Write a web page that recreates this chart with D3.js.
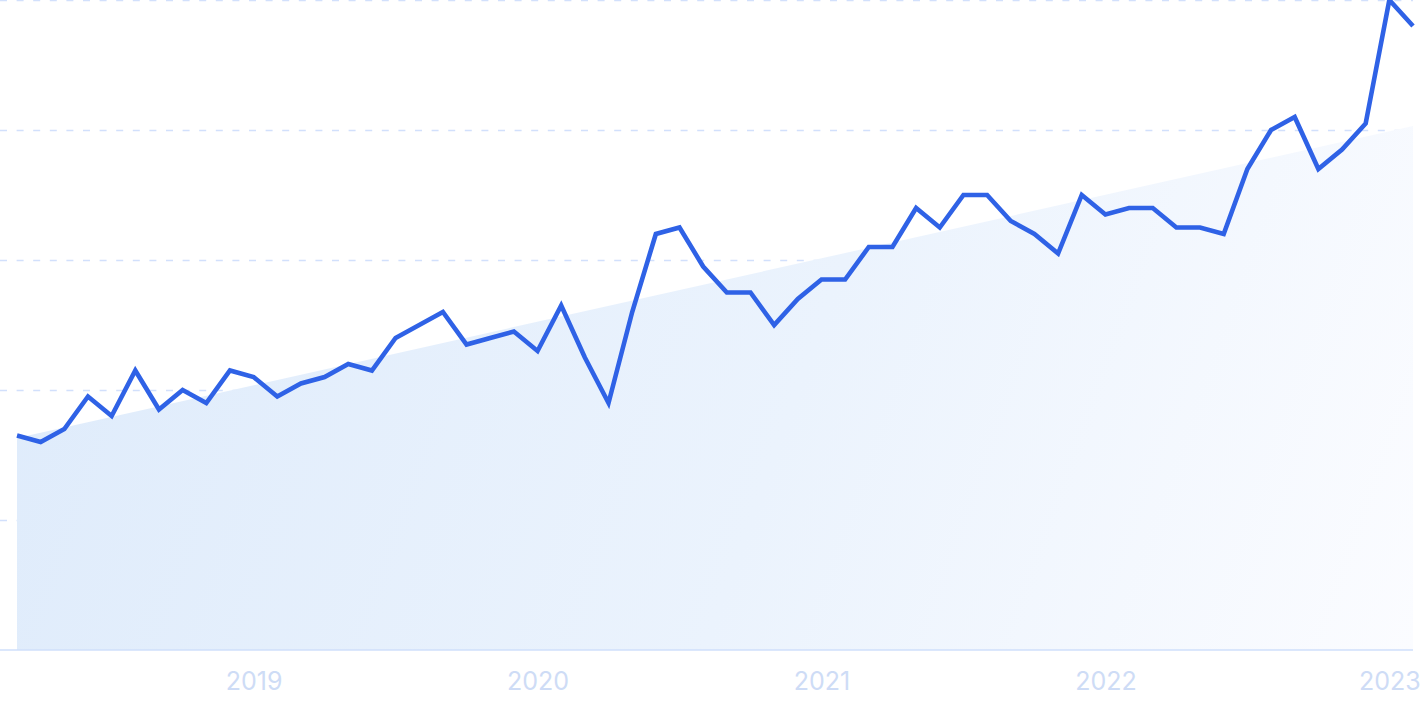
<!DOCTYPE html>
<html>
<head>
<meta charset="utf-8">
<script src="https://cdn.jsdelivr.net/npm/d3@7"></script>
<style>
  html, body { margin: 0; padding: 0; background: #ffffff; }
  svg { display: block; }
</style>
</head>
<body>
<svg id="chart" width="1425" height="712"></svg>
<script>
// Monthly values, Mar 2018 .. Feb 2023
const months = [
  "2018-03","2018-04","2018-05","2018-06","2018-07","2018-08","2018-09","2018-10","2018-11","2018-12",
  "2019-01","2019-02","2019-03","2019-04","2019-05","2019-06","2019-07","2019-08","2019-09","2019-10","2019-11","2019-12",
  "2020-01","2020-02","2020-03","2020-04","2020-05","2020-06","2020-07","2020-08","2020-09","2020-10","2020-11","2020-12",
  "2021-01","2021-02","2021-03","2021-04","2021-05","2021-06","2021-07","2021-08","2021-09","2021-10","2021-11","2021-12",
  "2022-01","2022-02","2022-03","2022-04","2022-05","2022-06","2022-07","2022-08","2022-09","2022-10","2022-11","2022-12",
  "2023-01","2023-02"
];
const values = [
  33, 32, 34, 39, 36, 43, 37, 40, 38, 43,
  42, 39, 41, 42, 44, 43, 48, 50, 52, 47, 48, 49,
  46, 53, 45, 38, 52, 64, 65, 59, 55, 55, 50, 54,
  57, 57, 62, 62, 68, 65, 70, 70, 66, 64, 61, 70,
  67, 68, 68, 65, 65, 64, 74, 80, 82, 74, 77, 81,
  100, 96
];
// Trend (start and end values of the shaded trend area)
const trendValues = [32.6, 80.6];
const yGridValues = [0, 20, 40, 60, 80, 100];
const yearTicks = ["2019-01","2020-01","2021-01","2022-01","2023-01"];
const yearLabels = ["2019","2020","2021","2022","2023"];

(function () {
const svg = d3.select("#chart");
const pLeft = 17, pRight = 1413, pTop = 0, pBottom = 650;

const x = d3.scalePoint().domain(months).range([pLeft, pRight]);
const y = d3.scaleLinear().domain([0, 100]).range([pBottom, pTop]);

// Gradient for the trend area
const defs = svg.append("defs");
const grad = defs.append("linearGradient")
  .attr("id", "trendGrad")
  .attr("gradientUnits", "userSpaceOnUse")
  .attr("x1", pLeft).attr("y1", 150)
  .attr("x2", pRight).attr("y2", pBottom);
grad.append("stop").attr("offset", "0%").attr("stop-color", "#deebfb");
grad.append("stop").attr("offset", "55%").attr("stop-color", "#ebf3fd");
grad.append("stop").attr("offset", "100%").attr("stop-color", "#fbfcff");

// Gridlines
const grid = d3.axisLeft(y)
  .tickValues(yGridValues.filter(v => v !== 0))
  .tickSize(-pRight)
  .tickFormat("");
svg.append("g")
  .call(grid)
  .call(g => g.select(".domain").remove())
  .call(g => g.selectAll(".tick line")
    .attr("x1", 0).attr("x2", pRight)
    .attr("stroke", "#d2e0fc")
    .attr("stroke-width", 1.4)
    .attr("stroke-dasharray", "7,9.6"));

// Trend area
const trendData = [
  { m: months[0], v: trendValues[0] },
  { m: months[months.length - 1], v: trendValues[1] }
];
svg.append("path")
  .datum(trendData)
  .attr("fill", "url(#trendGrad)")
  .attr("d", d3.area().x(d => x(d.m)).y0(y(0)).y1(d => y(d.v)));

// Baseline
svg.append("line")
  .attr("x1", 0).attr("x2", pRight)
  .attr("y1", y(0)).attr("y2", y(0))
  .attr("stroke", "#cfdffb").attr("stroke-width", 1.5);

// Main line
const pts = months.map((m, i) => ({ m, v: values[i] }));
svg.append("path")
  .datum(pts)
  .attr("fill", "none")
  .attr("stroke", "#2f62e6")
  .attr("stroke-width", 4.6)
  .attr("stroke-linejoin", "miter")
  .attr("stroke-linecap", "butt")
  .attr("d", d3.line().x(d => x(d.m)).y(d => y(d.v)));

// X axis (year labels)
const xAxis = d3.axisBottom(x)
  .tickValues(yearTicks)
  .tickSize(0)
  .tickPadding(0)
  .tickFormat((d, i) => yearLabels[i]);
svg.append("g")
  .attr("transform", `translate(0,${pBottom})`)
  .call(xAxis)
  .call(g => g.select(".domain").remove())
  .call(g => g.selectAll("text")
    .attr("y", 40)
    .attr("dy", 0)
    .attr("fill", "#cedcf6")
    .attr("font-family", "Inter, 'Open Sans', sans-serif")
    .attr("font-size", 25)
    .attr("font-weight", 400));
})();
</script>
</body>
</html>
